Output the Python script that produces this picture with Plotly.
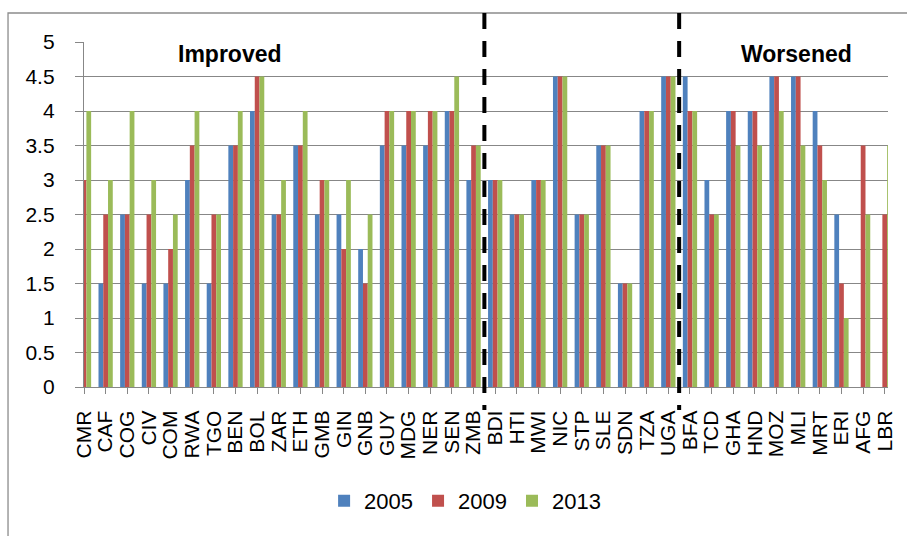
import plotly.graph_objects as go

# Country codes, grouped: improved | unchanged | worsened
countries = ["CMR", "CAF", "COG", "CIV", "COM", "RWA", "TGO", "BEN", "BOL", "ZAR",
             "ETH", "GMB", "GIN", "GNB", "GUY", "MDG", "NER", "SEN", "ZMB",
             "BDI", "HTI", "MWI", "NIC", "STP", "SLE", "SDN", "TZA", "UGA",
             "BFA", "TCD", "GHA", "HND", "MOZ", "MLI", "MRT", "ERI", "AFG", "LBR"]

score_2005 = [None, 1.5, 2.5, 1.5, 1.5, 3, 1.5, 3.5, 4, 2.5,
              3.5, 2.5, 2.5, 2, 3.5, 3.5, 3.5, 4, 3,
              3, 2.5, 3, 4.5, 2.5, 3.5, 1.5, 4, 4.5,
              4.5, 3, 4, 4, 4.5, 4.5, 4, 2.5, None, None]

score_2009 = [3, 2.5, 2.5, 2.5, 2, 3.5, 2.5, 3.5, 4.5, 2.5,
              3.5, 3, 2, 1.5, 4, 4, 4, 4, 3.5,
              3, 2.5, 3, 4.5, 2.5, 3.5, 1.5, 4, 4.5,
              4, 2.5, 4, 4, 4.5, 4.5, 3.5, 1.5, 3.5, 2.5]

score_2013 = [4, 3, 4, 3, 2.5, 4, 2.5, 4, 4.5, 3,
              4, 3, 3, 2.5, 4, 4, 4, 4.5, 3.5,
              3, 2.5, 3, 4.5, 2.5, 3.5, 1.5, 4, 4.5,
              4, 2.5, 3.5, 3.5, 4, 3.5, 3, 1, 2.5, 3.5]

series = [("2005", score_2005, "#4F81BD"),
          ("2009", score_2009, "#C0504D"),
          ("2013", score_2013, "#9BBB59")]

y_ticks = [0, 0.5, 1, 1.5, 2, 2.5, 3, 3.5, 4, 4.5, 5]
y_labels = ["0", "0.5", "1", "1.5", "2", "2.5", "3", "3.5", "4", "4.5", "5"]

# Group boundaries (between ZMB|BDI and UGA|BFA)
dividers = [18.5, 27.5]
section_labels = [("Improved", 6.73), ("Worsened", 32.9)]

FONT = "Liberation Sans"
GRID = "#878787"
xs = list(range(len(countries)))

fig = go.Figure()
for name, vals, color in series:
    fig.add_trace(go.Bar(x=xs, y=vals, name=name, marker_color=color,
                         marker_line_width=0))

shapes = []
for d in dividers:
    shapes.append(dict(type="line", xref="x", yref="paper", x0=d, x1=d,
                       y0=1.084, y1=-0.067, layer="above",
                       line=dict(color="black", width=4, dash="16px,12px")))
# outer chart frame
shapes.append(dict(type="rect", xref="paper", yref="paper",
                   x0=-0.0945, x1=1.2, y0=1.084, y1=-0.6, layer="below",
                   line=dict(color="#8C8C8C", width=1.3)))

annotations = [dict(text=f"<b>{t}</b>", x=x, xref="x", y=1.006, yref="paper",
                    showarrow=False, bgcolor="white", borderpad=0,
                    font=dict(family=FONT, size=23, color="black"))
               for t, x in section_labels]

fig.update_layout(
    width=907, height=536,
    margin=dict(l=84, r=19, t=42, b=149),
    paper_bgcolor="white", plot_bgcolor="white",
    barmode="group", bargap=0.34, bargroupgap=0,
    font=dict(family=FONT, size=21, color="black"),
    shapes=shapes, annotations=annotations,
    showlegend=True,
    legend=dict(orientation="h", x=0.474, xanchor="center", y=-0.33,
                yanchor="middle", font=dict(family=FONT, size=22),
                itemwidth=30, traceorder="normal"),
)
fig.update_xaxes(range=[0, 37.15], tickmode="array", tickvals=xs,
                 ticktext=countries, tickangle=-90, ticks="outside",
                 ticklen=6, tickcolor=GRID, showline=True, linecolor=GRID,
                 linewidth=1.4, showgrid=False, zeroline=False,
                 ticklabelstandoff=8,
                 tickfont=dict(family=FONT, size=21, color="black"))
fig.update_yaxes(range=[0, 5], tickmode="array", tickvals=y_ticks,
                 ticktext=y_labels, ticks="outside", ticklen=8,
                 tickcolor=GRID, showline=True, linecolor=GRID, linewidth=1.4,
                 showgrid=True, gridcolor=GRID, gridwidth=1.4, zeroline=False,
                 ticklabelstandoff=16,
                 tickfont=dict(family=FONT, size=21, color="black"))

fig.write_html("out.html")
